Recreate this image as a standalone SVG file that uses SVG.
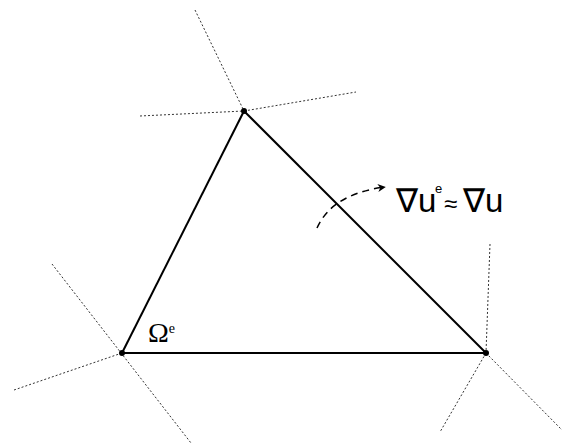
<svg xmlns="http://www.w3.org/2000/svg" width="564" height="447" viewBox="0 0 564 447">
<style>
.dot{stroke:#333;stroke-width:1;stroke-dasharray:2,2;fill:none}
.edge{stroke:#000;stroke-width:2;fill:none}
.v{fill:#000}
.lab{font-family:"Liberation Sans",Arial,sans-serif;fill:#000}
.om{font-family:"Liberation Serif","Times New Roman",serif;fill:#000}
</style>
<defs>
<marker id="ah" viewBox="0 0 10 10" refX="9" refY="5" markerWidth="10" markerHeight="8" markerUnits="userSpaceOnUse" orient="auto">
<path d="M0,0 L10,5 L0,10 L3,5 Z" fill="#000"/>
</marker>
</defs>
<rect width="564" height="447" fill="#fff"/>
<g id="neighbours">
<line class="dot" x1="195" y1="10" x2="244" y2="111"/>
<line class="dot" x1="140" y1="116" x2="244" y2="111"/>
<line class="dot" x1="244" y1="111" x2="356" y2="92"/>
<line class="dot" x1="52" y1="264" x2="191" y2="443"/>
<line class="dot" x1="14" y1="390" x2="122" y2="353"/>
<line class="dot" x1="490" y1="244" x2="486" y2="353"/>
<line class="dot" x1="486" y1="353" x2="440" y2="432"/>
<line class="dot" x1="486" y1="353" x2="562" y2="430"/>
</g>
<g id="connectors">
<line class="edge" x1="244" y1="111" x2="122" y2="353"/>
<line class="edge" x1="122" y1="353" x2="486" y2="353"/>
<line class="edge" x1="244" y1="111" x2="486" y2="353"/>
<path d="M317,228 Q332,194 385,187" fill="none" stroke="#000" stroke-width="1.5" stroke-dasharray="7,5" marker-end="url(#ah)"/>
</g>
<g id="vertex-top"><circle class="v" cx="244" cy="111" r="3"/></g>
<g id="vertex-left"><circle class="v" cx="122" cy="353" r="3"/></g>
<g id="vertex-right"><circle class="v" cx="486" cy="353" r="3"/></g>
<g id="element-label">
<text class="om" x="148" y="342" font-size="28">Ω<tspan font-size="14" dy="-9">e</tspan></text>
</g>
<g id="gradient-label">
<text class="lab" x="396" y="212" font-size="33">∇u<tspan x="435" dy="-19" font-size="13">e</tspan><tspan x="444" dy="19" font-size="24">≈</tspan><tspan x="463">∇u</tspan></text>
</g>
</svg>
